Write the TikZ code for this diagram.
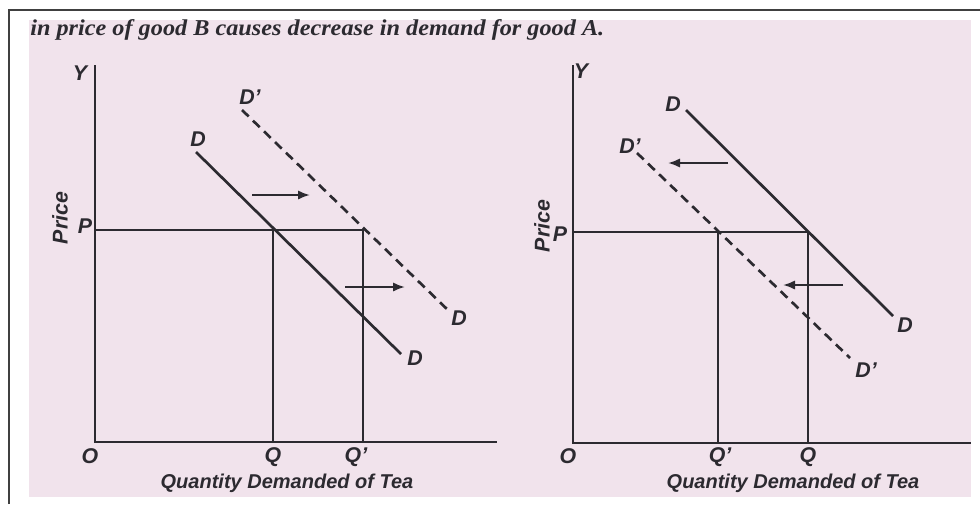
\documentclass[tikz,border=0pt]{standalone}
\usepackage{fontspec}
\setmainfont{Liberation Serif}
\setsansfont{Liberation Sans}
\usetikzlibrary{arrows.meta}
\definecolor{paper}{RGB}{241,227,236}
\definecolor{ink}{RGB}{44,42,48}
\tikzset{
  curve/.style={line width=2pt, draw=ink},
  shifted/.style={curve, dash pattern=on 7pt off 4.5pt},
  guide/.style={line width=1.8pt, draw=ink},
  shiftarrow/.style={line width=1.6pt, draw=ink, -{Latex[length=9pt,width=7pt]}},
  lbl/.style={font=\sffamily\bfseries\itshape\fontsize{16}{16}\selectfont, text=ink, inner sep=0pt},
  axistitle/.style={font=\sffamily\bfseries\itshape\fontsize{15}{15}\selectfont, text=ink, inner sep=0pt}
}
\begin{document}
\begin{tikzpicture}[x=0.75pt, y=-0.75pt]
\useasboundingbox (0,0) rectangle (980,504);
% page and scan
\fill[white] (0,0) rectangle (980,504);
\fill[paper] (29,20) rectangle (971,497);
\draw[line width=1.6pt, draw=black!75] (9,504) -- (9,10) -- (980,10);
\node[anchor=base west, font=\bfseries\itshape\fontsize{17}{17}\selectfont, text=ink, inner sep=0pt, xscale=1.07, transform shape] (title) at (30,35) {in price of good B causes decrease in demand for good A.};

% Left diagram
\coordinate (lY) at (95,65);
\coordinate (lO) at (95,442);
\coordinate (lX) at (497,442);
\coordinate (lP) at (95,230);
\coordinate (lE) at (273,230);
\coordinate (lF) at (363,230);
\coordinate (lQ) at (273,442);
\coordinate (lQn) at (363,442);
\coordinate (lD1) at (196,152);
\coordinate (lD2) at (401,354);
\coordinate (lN1) at (242,110);
\coordinate (lN2) at (450,312);
\draw[guide] (lY) -- (lO) -- (lX);
\draw[guide] (lP) -- (lF) -- (lQn);
\draw[guide] (lE) -- (lQ);
\draw[curve] (lD1) -- (lD2);
\draw[shifted] (lN1) -- (lN2);
\coordinate (la1) at (252,195);
\coordinate (la2) at (310,195);
\coordinate (lb1) at (345,287);
\coordinate (lb2) at (405,287);
\draw[shiftarrow] (la1) -- (la2);
\draw[shiftarrow] (lb1) -- (lb2);
\node[lbl] (lYl) at (80,73) {Y};
\node[lbl] (lPl) at (85,226) {P};
\node[lbl, rotate=90] (lPrice) at (60,218) {Price};
\node[lbl] (lOl) at (90,456) {O};
\node[lbl] (lQl) at (273,457) {Q};
\node[lbl] (lQnl) at (356,457) {Q'};
\node[lbl] (lDa) at (198,139) {D};
\node[lbl] (lDb) at (415,358) {D};
\node[lbl] (lNa) at (250,97) {D'};
\node[lbl] (lNb) at (459,318) {D};
\node[axistitle] (lTitle) at (287,483) {Quantity Demanded of Tea};

% Right diagram
\coordinate (rY) at (573,65);
\coordinate (rO) at (573,443);
\coordinate (rX) at (971,443);
\coordinate (rP) at (573,232);
\coordinate (rE) at (808,232);
\coordinate (rF) at (718,232);
\coordinate (rQ) at (808,443);
\coordinate (rQn) at (718,443);
\coordinate (rD1) at (686,110);
\coordinate (rD2) at (893,316);
\coordinate (rN1) at (637,153);
\coordinate (rN2) at (850,358);
\draw[guide] (rY) -- (rO) -- (rX);
\draw[guide] (rP) -- (rE) -- (rQ);
\draw[guide] (rF) -- (rQn);
\draw[curve] (rD1) -- (rD2);
\draw[shifted] (rN1) -- (rN2);
\coordinate (ra1) at (728,163);
\coordinate (ra2) at (668,163);
\coordinate (rb1) at (843,285);
\coordinate (rb2) at (783,285);
\draw[shiftarrow] (ra1) -- (ra2);
\draw[shiftarrow] (rb1) -- (rb2);
\node[lbl] (rYl) at (581,71) {Y};
\node[lbl] (rPl) at (560,234) {P};
\node[lbl, rotate=90] (rPrice) at (542,226) {Price};
\node[lbl] (rOl) at (568,456) {O};
\node[lbl] (rQnl) at (720,457) {Q'};
\node[lbl] (rQl) at (808,457) {Q};
\node[lbl] (rDa) at (673,104) {D};
\node[lbl] (rDb) at (905,325) {D};
\node[lbl] (rNa) at (630,146) {D'};
\node[lbl] (rNb) at (866,370) {D'};
\node[axistitle] (rTitle) at (793,483) {Quantity Demanded of Tea};
\end{tikzpicture}
\end{document}
